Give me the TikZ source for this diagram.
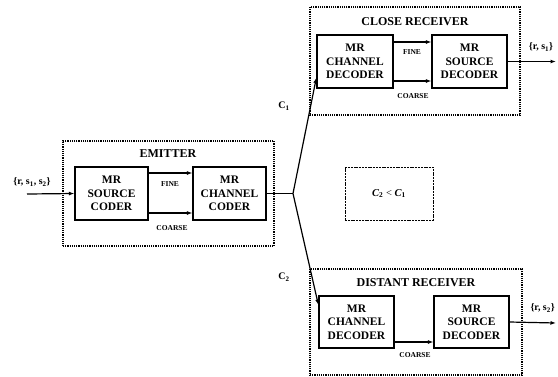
\documentclass[tikz,border=0pt]{standalone}
\usepackage{fontspec}
\setmainfont{Liberation Serif}
\usetikzlibrary{arrows.meta}
\begin{document}
\begin{tikzpicture}[x=1pt,y=-1pt,
  blk/.style={draw,line width=1.2pt,minimum width=73pt,minimum height=53pt,inner sep=0pt,align=center,
    font=\bfseries\fontsize{11.5}{13.5}\selectfont},
  outer/.style={draw,line width=1.2pt,densely dotted,inner sep=0pt},
  ttl/.style={font=\bfseries\fontsize{12}{13}\selectfont},
  small/.style={font=\bfseries\fontsize{7.5}{8}\selectfont},
  lbl/.style={font=\bfseries\fontsize{10}{11}\selectfont},
  arr/.style={line width=1.2pt,-{Latex[length=5.5pt,width=4pt]}},
  ln/.style={line width=1.2pt}]
\useasboundingbox (0,0) rectangle (558,376);
% emitter
\node[outer,minimum width=211pt,minimum height=105pt] (emit) at (168.5,193.5) {};
\node[ttl] (emitT) at (168,154) {EMITTER};
\node[blk] (sc) at (111.5,193.5) {MR\\SOURCE\\CODER};
\node[blk] (cc) at (229.5,193.5) {MR\\CHANNEL\\CODER};
\draw[arr] ([yshift=20.5pt]sc.east) -- ([yshift=20.5pt]cc.west);
\draw[arr] ([yshift=-19.5pt]sc.east) -- ([yshift=-19.5pt]cc.west);
\node[small] (fine0) at (170,184) {FINE};
\node[small] (coarse0) at (172,228) {COARSE};
\coordinate (in) at (27,194);
\node[lbl] (inL) at (32,182) {\{r, s$_{\mathbf 1}$, s$_{\mathbf 2}$\}};
\draw[arr] (in) -- (sc.west);
\coordinate (j) at (293,193.5);
\draw[ln] (cc.east) -- (j);
% close receiver
\node[outer,minimum width=210pt,minimum height=108pt] (close) at (415,61) {};
\node[ttl] (closeT) at (415,22) {CLOSE RECEIVER};
\node[blk,minimum width=76pt] (cd1) at (355,61.5) {MR\\CHANNEL\\DECODER};
\node[blk,minimum width=75pt] (sd1) at (469.5,61.5) {MR\\SOURCE\\DECODER};
\draw[arr] ([yshift=19.5pt]cd1.east) -- ([yshift=19.5pt]sd1.west);
\draw[arr] ([yshift=-19.5pt]cd1.east) -- ([yshift=-19.5pt]sd1.west);
\node[small] (fine1) at (412,52) {FINE};
\node[small] (coarse1) at (413,96) {COARSE};
\coordinate (o1) at (556,61.5);
\draw[arr] (sd1.east) -- (o1);
\node[lbl] (o1L) at (541,47) {\{r, s$_{\mathbf 1}$\}};
% distant receiver
\node[outer,minimum width=212pt,minimum height=106pt] (dist) at (416,322) {};
\node[ttl] (distT) at (416,283) {DISTANT RECEIVER};
\node[blk,minimum width=75pt,minimum height=52pt] (cd2) at (356.5,322) {MR\\CHANNEL\\DECODER};
\node[blk,minimum width=75pt,minimum height=52pt] (sd2) at (471.5,322) {MR\\SOURCE\\DECODER};
\draw[arr] ([yshift=-20pt]cd2.east) -- ([yshift=-20pt]sd2.west);
\node[small] (coarse2) at (415,355) {COARSE};
\coordinate (o2) at (556,323);
\draw[arr] (sd2.east) -- (o2);
\node[lbl,anchor=west] (o2L) at (527,308) {\{r, s$_{\mathbf 2}$\}};
% channels
\draw[arr] (j) -- ([yshift=-16pt]cd1.west);
\draw[arr] (j) -- ([yshift=17pt]cd2.west);
\node[lbl] (c1) at (284,106) {C$_{\mathbf 1}$};
\node[lbl] (c2) at (284,277) {C$_{\mathbf 2}$};
% comparison box
\node[draw,line width=0.7pt,dash pattern=on 2pt off 0.8pt,minimum width=88pt,minimum height=53pt,
  font=\fontsize{10.5}{11}\selectfont] (cmp) at (389,193.5) {\textit{\textbf{C}}$_{\mathbf 2}$ < \textit{\textbf{C}}$_{\mathbf 1}$};
\end{tikzpicture}
\end{document}
